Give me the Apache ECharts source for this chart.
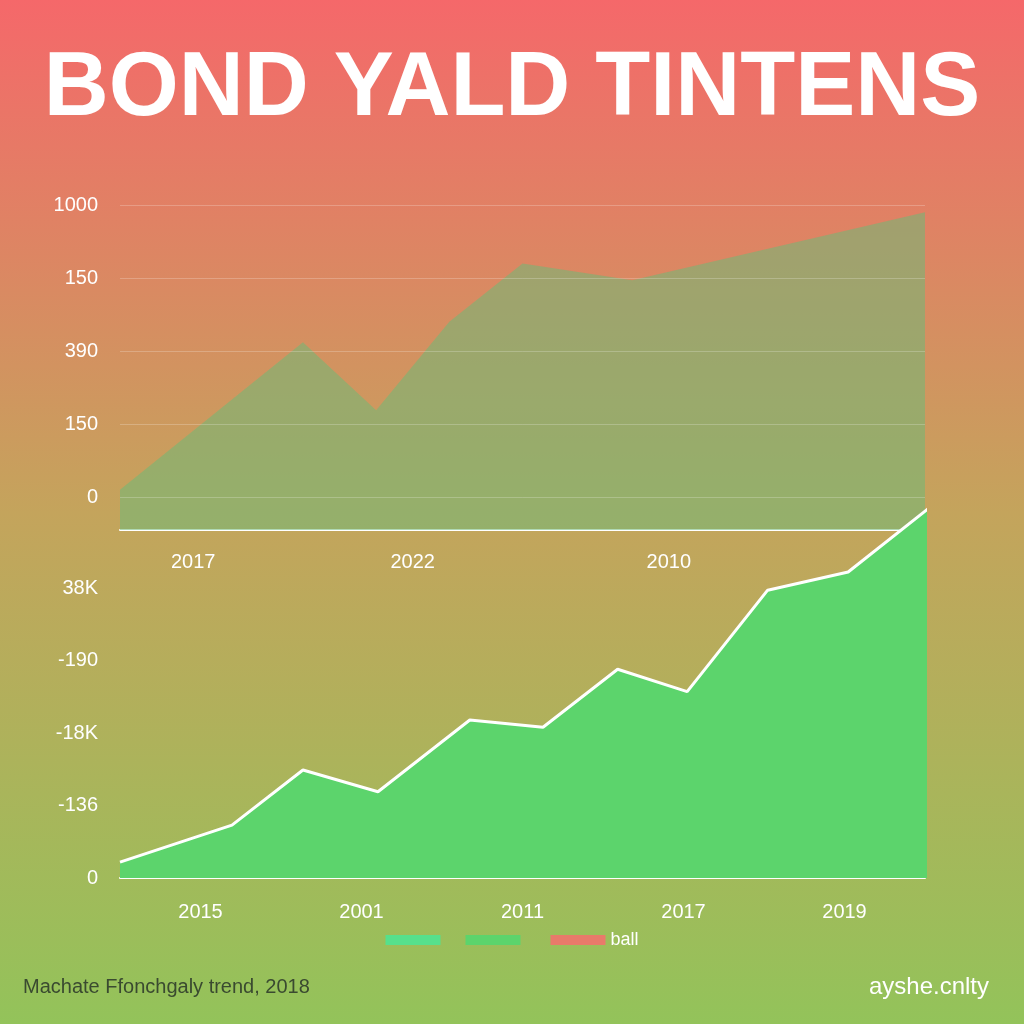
<!DOCTYPE html>
<html><head><meta charset="utf-8">
<script src="https://cdn.jsdelivr.net/npm/echarts@6/dist/echarts.min.js"></script>
<style>html,body{margin:0;padding:0}#c{width:1024px;height:1024px}</style>
</head><body><div id="c"></div>
<script>
const topYLabels = ['0','150','390','150','1000'];
const topXLabels = ['','','2017','','','','','','2022','','','','','','','2010','','','','','','',''];
const topValues = [0.1,null,null,null,null,2.12,null,1.19,null,2.4,null,3.2,null,null,2.97,null,null,null,null,null,null,null,3.9];
const botYLabels = ['0','-136','-18K','-190','38K'];
const botXLabels = ['2015','2001','2011','2017','2019'];
const botX = [0,3.06,5.0,7.05,9.56,11.56,13.6,15.5,17.7,19.9,22.1];
const botY = [0.22,0.73,1.49,1.19,2.18,2.08,2.88,2.57,3.97,4.22,5.1];
const legendNames = [' ','  ','ball'];
const ticks = [0,1,2,3,4];

const chart = echarts.init(document.getElementById('c'));
const lab = {color:'#fff',fontSize:20,fontFamily:'Liberation Sans'};
chart.setOption({
  backgroundColor:{type:'linear',x:0,y:0,x2:0,y2:1,colorStops:[
    {offset:0,color:'#f5686a'},{offset:0.5,color:'#c4a45c'},{offset:1,color:'#93c35a'}]},
  title:[
    {text:'BOND YALD TINTENS',left:'center',top:40,textStyle:{color:'#fff',fontSize:90,fontWeight:'bold',fontFamily:'Liberation Sans'}},
    {text:'Machate Ffonchgaly trend, 2018',left:18,top:972,textStyle:{color:'#3a4a30',fontSize:20,fontWeight:'normal',fontFamily:'Liberation Sans'}},
    {text:'ayshe.cnlty',right:30,top:970,textStyle:{color:'#fff',fontSize:24,fontWeight:'normal',fontFamily:'Liberation Sans'}}
  ],
  legend:{bottom:70,left:'center',itemWidth:55,itemHeight:10,itemGap:15,data:legendNames,
    textStyle:{color:'#fff',fontSize:18},icon:'rect'},
  grid:[{left:120,right:99,top:205,height:325},{left:120,right:99,top:501,height:377}],
  xAxis:[
    {gridIndex:0,type:'category',boundaryGap:false,data:topXLabels,
     axisLine:{onZero:false,lineStyle:{color:'#fff',width:2}},axisTick:{show:false},
     axisLabel:Object.assign({interval:0,margin:22},lab)},
    {gridIndex:1,type:'category',boundaryGap:true,data:botXLabels,
     axisLine:{lineStyle:{color:'#fff',width:2}},axisTick:{show:false},
     axisLabel:Object.assign({margin:24},lab)},
    {gridIndex:1,type:'value',min:0,max:22,show:false}
  ],
  yAxis:[
    {gridIndex:0,type:'value',min:-0.45,max:4,axisLine:{show:false},
     axisTick:{show:false,customValues:ticks},
     splitLine:{show:false},
     axisLabel:Object.assign({customValues:ticks,formatter:v=>topYLabels[Math.round(v)],margin:22},lab)},
    {gridIndex:1,type:'value',min:0,max:5.2,axisLine:{show:false},
     axisTick:{show:false,customValues:ticks},splitLine:{show:false},
     axisLabel:Object.assign({customValues:ticks,formatter:v=>botYLabels[Math.round(v)],margin:22},lab)}
  ],
  series:[
    {type:'line',xAxisIndex:0,yAxisIndex:0,data:topValues,connectNulls:true,symbol:'none',
     lineStyle:{width:0},areaStyle:{color:'rgba(110,185,120,0.78)',origin:'start'},
     markLine:{silent:true,symbol:'none',label:{show:false},lineStyle:{color:'rgba(255,255,255,0.22)',type:'solid',width:1},
       data:ticks.map(v=>({yAxis:v}))}},
    {type:'line',xAxisIndex:2,yAxisIndex:1,data:botX.map((x,i)=>[x,botY[i]]),symbol:'none',clip:false,
     lineStyle:{color:'#fff',width:3},areaStyle:{color:'#5cd46c',opacity:1,origin:'start'}},
    {name:legendNames[0],type:'line',xAxisIndex:2,yAxisIndex:1,data:[],itemStyle:{color:'#56e08c'}},
    {name:legendNames[1],type:'line',xAxisIndex:2,yAxisIndex:1,data:[],itemStyle:{color:'#5cd46c'}},
    {name:legendNames[2],type:'line',xAxisIndex:2,yAxisIndex:1,data:[],itemStyle:{color:'#e87a6a'}}
  ]
});
</script></body></html>
